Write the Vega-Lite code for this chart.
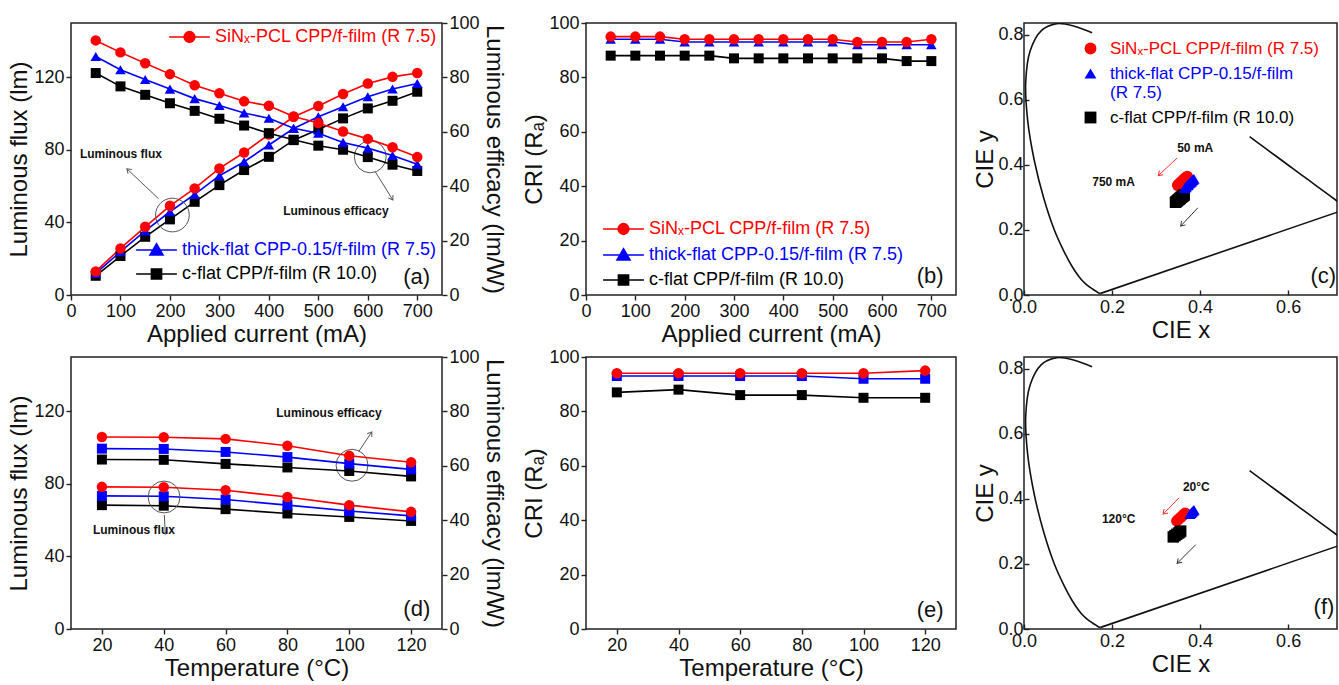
{
  "$schema": "https://vega.github.io/schema/vega-lite/v6.json",
  "background": "white",
  "padding": {"left": 7, "top": 13, "right": 0, "bottom": 0},
  "config": {
    "font": "Liberation Sans",
    "view": {"stroke": "#222", "strokeWidth": 1.5},
    "axis": {
      "grid": false, "domain": false,
      "labelFont": "Liberation Sans", "titleFont": "Liberation Sans",
      "labelFontSize": 18, "titleFontSize": 24, "titleFontWeight": "normal",
      "labelColor": "#111", "titleColor": "#111",
      "tickColor": "#222", "tickWidth": 1.4, "tickSize": 5,
      "labelOverlap": false, "labelFlush": false,
      "labelPadding": 2, "titlePadding": 2
    },
    "legend": {"labelFont": "Liberation Sans", "labelFontSize": 18, "labelLimit": 400}
  },
  "datasets": {
    "flux_current": [
      {"mA": 50, "sample": "c-flat", "lm": 10.6}, {"mA": 100, "sample": "c-flat", "lm": 21.5}, {"mA": 150, "sample": "c-flat", "lm": 32.1}, {"mA": 200, "sample": "c-flat", "lm": 41.7}, {"mA": 250, "sample": "c-flat", "lm": 51.4}, {"mA": 300, "sample": "c-flat", "lm": 60.6}, {"mA": 350, "sample": "c-flat", "lm": 68.9}, {"mA": 400, "sample": "c-flat", "lm": 76.2}, {"mA": 450, "sample": "c-flat", "lm": 85.4}, {"mA": 500, "sample": "c-flat", "lm": 91.3}, {"mA": 550, "sample": "c-flat", "lm": 97.4}, {"mA": 600, "sample": "c-flat", "lm": 102.9}, {"mA": 650, "sample": "c-flat", "lm": 107.1}, {"mA": 700, "sample": "c-flat", "lm": 112.1},
      {"mA": 50, "sample": "thick-flat", "lm": 11.9}, {"mA": 100, "sample": "thick-flat", "lm": 23.9}, {"mA": 150, "sample": "thick-flat", "lm": 35.3}, {"mA": 200, "sample": "thick-flat", "lm": 45.9}, {"mA": 250, "sample": "thick-flat", "lm": 55.5}, {"mA": 300, "sample": "thick-flat", "lm": 65.8}, {"mA": 350, "sample": "thick-flat", "lm": 73.5}, {"mA": 400, "sample": "thick-flat", "lm": 82.7}, {"mA": 450, "sample": "thick-flat", "lm": 91.8}, {"mA": 500, "sample": "thick-flat", "lm": 98.3}, {"mA": 550, "sample": "thick-flat", "lm": 103.8}, {"mA": 600, "sample": "thick-flat", "lm": 109.3}, {"mA": 650, "sample": "thick-flat", "lm": 113.6}, {"mA": 700, "sample": "thick-flat", "lm": 116.6},
      {"mA": 50, "sample": "SiNx-PCL", "lm": 13.0}, {"mA": 100, "sample": "SiNx-PCL", "lm": 25.7}, {"mA": 150, "sample": "SiNx-PCL", "lm": 37.6}, {"mA": 200, "sample": "SiNx-PCL", "lm": 49.2}, {"mA": 250, "sample": "SiNx-PCL", "lm": 58.8}, {"mA": 300, "sample": "SiNx-PCL", "lm": 69.8}, {"mA": 350, "sample": "SiNx-PCL", "lm": 78.6}, {"mA": 400, "sample": "SiNx-PCL", "lm": 88.5}, {"mA": 450, "sample": "SiNx-PCL", "lm": 98.3}, {"mA": 500, "sample": "SiNx-PCL", "lm": 104.2}, {"mA": 550, "sample": "SiNx-PCL", "lm": 110.8}, {"mA": 600, "sample": "SiNx-PCL", "lm": 116.6}, {"mA": 650, "sample": "SiNx-PCL", "lm": 120.3}, {"mA": 700, "sample": "SiNx-PCL", "lm": 122.4}
    ],
    "eff_current": [
      {"mA": 50, "sample": "c-flat", "lmW": 81.6}, {"mA": 100, "sample": "c-flat", "lmW": 76.7}, {"mA": 150, "sample": "c-flat", "lmW": 73.6}, {"mA": 200, "sample": "c-flat", "lmW": 70.5}, {"mA": 250, "sample": "c-flat", "lmW": 67.7}, {"mA": 300, "sample": "c-flat", "lmW": 64.8}, {"mA": 350, "sample": "c-flat", "lmW": 62.3}, {"mA": 400, "sample": "c-flat", "lmW": 59.5}, {"mA": 450, "sample": "c-flat", "lmW": 57.1}, {"mA": 500, "sample": "c-flat", "lmW": 54.9}, {"mA": 550, "sample": "c-flat", "lmW": 53.4}, {"mA": 600, "sample": "c-flat", "lmW": 50.7}, {"mA": 650, "sample": "c-flat", "lmW": 47.9}, {"mA": 700, "sample": "c-flat", "lmW": 45.6},
      {"mA": 50, "sample": "thick-flat", "lmW": 87.7}, {"mA": 100, "sample": "thick-flat", "lmW": 82.8}, {"mA": 150, "sample": "thick-flat", "lmW": 79.2}, {"mA": 200, "sample": "thick-flat", "lmW": 75.7}, {"mA": 250, "sample": "thick-flat", "lmW": 72.2}, {"mA": 300, "sample": "thick-flat", "lmW": 69.7}, {"mA": 350, "sample": "thick-flat", "lmW": 66.9}, {"mA": 400, "sample": "thick-flat", "lmW": 65.0}, {"mA": 450, "sample": "thick-flat", "lmW": 61.3}, {"mA": 500, "sample": "thick-flat", "lmW": 59.5}, {"mA": 550, "sample": "thick-flat", "lmW": 56.1}, {"mA": 600, "sample": "thick-flat", "lmW": 54.0}, {"mA": 650, "sample": "thick-flat", "lmW": 51.3}, {"mA": 700, "sample": "thick-flat", "lmW": 48.1},
      {"mA": 50, "sample": "SiNx-PCL", "lmW": 93.6}, {"mA": 100, "sample": "SiNx-PCL", "lmW": 89.2}, {"mA": 150, "sample": "SiNx-PCL", "lmW": 85.2}, {"mA": 200, "sample": "SiNx-PCL", "lmW": 81.2}, {"mA": 250, "sample": "SiNx-PCL", "lmW": 77.1}, {"mA": 300, "sample": "SiNx-PCL", "lmW": 74.2}, {"mA": 350, "sample": "SiNx-PCL", "lmW": 71.2}, {"mA": 400, "sample": "SiNx-PCL", "lmW": 69.6}, {"mA": 450, "sample": "SiNx-PCL", "lmW": 65.6}, {"mA": 500, "sample": "SiNx-PCL", "lmW": 63.2}, {"mA": 550, "sample": "SiNx-PCL", "lmW": 60.1}, {"mA": 600, "sample": "SiNx-PCL", "lmW": 57.4}, {"mA": 650, "sample": "SiNx-PCL", "lmW": 54.3}, {"mA": 700, "sample": "SiNx-PCL", "lmW": 50.7}
    ],
    "cri_current": [
      {"mA": 50, "sample": "c-flat", "Ra": 88}, {"mA": 100, "sample": "c-flat", "Ra": 88}, {"mA": 150, "sample": "c-flat", "Ra": 88}, {"mA": 200, "sample": "c-flat", "Ra": 88}, {"mA": 250, "sample": "c-flat", "Ra": 88}, {"mA": 300, "sample": "c-flat", "Ra": 87}, {"mA": 350, "sample": "c-flat", "Ra": 87}, {"mA": 400, "sample": "c-flat", "Ra": 87}, {"mA": 450, "sample": "c-flat", "Ra": 87}, {"mA": 500, "sample": "c-flat", "Ra": 87}, {"mA": 550, "sample": "c-flat", "Ra": 87}, {"mA": 600, "sample": "c-flat", "Ra": 87}, {"mA": 650, "sample": "c-flat", "Ra": 86}, {"mA": 700, "sample": "c-flat", "Ra": 86},
      {"mA": 50, "sample": "thick-flat", "Ra": 94}, {"mA": 100, "sample": "thick-flat", "Ra": 94}, {"mA": 150, "sample": "thick-flat", "Ra": 94}, {"mA": 200, "sample": "thick-flat", "Ra": 93}, {"mA": 250, "sample": "thick-flat", "Ra": 93}, {"mA": 300, "sample": "thick-flat", "Ra": 93}, {"mA": 350, "sample": "thick-flat", "Ra": 93}, {"mA": 400, "sample": "thick-flat", "Ra": 93}, {"mA": 450, "sample": "thick-flat", "Ra": 93}, {"mA": 500, "sample": "thick-flat", "Ra": 93}, {"mA": 550, "sample": "thick-flat", "Ra": 92}, {"mA": 600, "sample": "thick-flat", "Ra": 92}, {"mA": 650, "sample": "thick-flat", "Ra": 92}, {"mA": 700, "sample": "thick-flat", "Ra": 92},
      {"mA": 50, "sample": "SiNx-PCL", "Ra": 95}, {"mA": 100, "sample": "SiNx-PCL", "Ra": 95}, {"mA": 150, "sample": "SiNx-PCL", "Ra": 95}, {"mA": 200, "sample": "SiNx-PCL", "Ra": 94}, {"mA": 250, "sample": "SiNx-PCL", "Ra": 94}, {"mA": 300, "sample": "SiNx-PCL", "Ra": 94}, {"mA": 350, "sample": "SiNx-PCL", "Ra": 94}, {"mA": 400, "sample": "SiNx-PCL", "Ra": 94}, {"mA": 450, "sample": "SiNx-PCL", "Ra": 94}, {"mA": 500, "sample": "SiNx-PCL", "Ra": 94}, {"mA": 550, "sample": "SiNx-PCL", "Ra": 93}, {"mA": 600, "sample": "SiNx-PCL", "Ra": 93}, {"mA": 650, "sample": "SiNx-PCL", "Ra": 93}, {"mA": 700, "sample": "SiNx-PCL", "Ra": 94}
    ],
    "cie_current": [
      {"mA": 50, "sample": "c-flat", "x": 0.364, "y": 0.308}, {"mA": 100, "sample": "c-flat", "x": 0.363, "y": 0.306}, {"mA": 150, "sample": "c-flat", "x": 0.361, "y": 0.305}, {"mA": 200, "sample": "c-flat", "x": 0.360, "y": 0.303}, {"mA": 250, "sample": "c-flat", "x": 0.358, "y": 0.301}, {"mA": 300, "sample": "c-flat", "x": 0.357, "y": 0.300}, {"mA": 350, "sample": "c-flat", "x": 0.355, "y": 0.298}, {"mA": 400, "sample": "c-flat", "x": 0.354, "y": 0.296}, {"mA": 450, "sample": "c-flat", "x": 0.352, "y": 0.294}, {"mA": 500, "sample": "c-flat", "x": 0.351, "y": 0.293}, {"mA": 550, "sample": "c-flat", "x": 0.349, "y": 0.291}, {"mA": 600, "sample": "c-flat", "x": 0.348, "y": 0.289}, {"mA": 650, "sample": "c-flat", "x": 0.346, "y": 0.287}, {"mA": 700, "sample": "c-flat", "x": 0.344, "y": 0.285},
      {"mA": 50, "sample": "thick-flat", "x": 0.386, "y": 0.357}, {"mA": 100, "sample": "thick-flat", "x": 0.384, "y": 0.355}, {"mA": 150, "sample": "thick-flat", "x": 0.383, "y": 0.353}, {"mA": 200, "sample": "thick-flat", "x": 0.381, "y": 0.351}, {"mA": 250, "sample": "thick-flat", "x": 0.380, "y": 0.349}, {"mA": 300, "sample": "thick-flat", "x": 0.378, "y": 0.347}, {"mA": 350, "sample": "thick-flat", "x": 0.377, "y": 0.345}, {"mA": 400, "sample": "thick-flat", "x": 0.375, "y": 0.343}, {"mA": 450, "sample": "thick-flat", "x": 0.373, "y": 0.340}, {"mA": 500, "sample": "thick-flat", "x": 0.372, "y": 0.338}, {"mA": 550, "sample": "thick-flat", "x": 0.370, "y": 0.336}, {"mA": 600, "sample": "thick-flat", "x": 0.368, "y": 0.333}, {"mA": 650, "sample": "thick-flat", "x": 0.367, "y": 0.331}, {"mA": 700, "sample": "thick-flat", "x": 0.365, "y": 0.328},
      {"mA": 50, "sample": "SiNx-PCL", "x": 0.371, "y": 0.364}, {"mA": 100, "sample": "SiNx-PCL", "x": 0.369, "y": 0.362}, {"mA": 150, "sample": "SiNx-PCL", "x": 0.368, "y": 0.361}, {"mA": 200, "sample": "SiNx-PCL", "x": 0.366, "y": 0.359}, {"mA": 250, "sample": "SiNx-PCL", "x": 0.365, "y": 0.357}, {"mA": 300, "sample": "SiNx-PCL", "x": 0.363, "y": 0.355}, {"mA": 350, "sample": "SiNx-PCL", "x": 0.362, "y": 0.353}, {"mA": 400, "sample": "SiNx-PCL", "x": 0.360, "y": 0.351}, {"mA": 450, "sample": "SiNx-PCL", "x": 0.358, "y": 0.349}, {"mA": 500, "sample": "SiNx-PCL", "x": 0.357, "y": 0.347}, {"mA": 550, "sample": "SiNx-PCL", "x": 0.355, "y": 0.345}, {"mA": 600, "sample": "SiNx-PCL", "x": 0.353, "y": 0.342}, {"mA": 650, "sample": "SiNx-PCL", "x": 0.351, "y": 0.340}, {"mA": 700, "sample": "SiNx-PCL", "x": 0.349, "y": 0.337}
    ],
    "flux_temp": [
      {"degC": 20, "sample": "c-flat", "lm": 68.3}, {"degC": 40, "sample": "c-flat", "lm": 68.0}, {"degC": 60, "sample": "c-flat", "lm": 66.1}, {"degC": 80, "sample": "c-flat", "lm": 63.7}, {"degC": 100, "sample": "c-flat", "lm": 61.8}, {"degC": 120, "sample": "c-flat", "lm": 59.6},
      {"degC": 20, "sample": "thick-flat", "lm": 73.4}, {"degC": 40, "sample": "thick-flat", "lm": 73.2}, {"degC": 60, "sample": "thick-flat", "lm": 71.4}, {"degC": 80, "sample": "thick-flat", "lm": 68.3}, {"degC": 100, "sample": "thick-flat", "lm": 65.1}, {"degC": 120, "sample": "thick-flat", "lm": 62.4},
      {"degC": 20, "sample": "SiNx-PCL", "lm": 78.4}, {"degC": 40, "sample": "SiNx-PCL", "lm": 78.2}, {"degC": 60, "sample": "SiNx-PCL", "lm": 76.5}, {"degC": 80, "sample": "SiNx-PCL", "lm": 72.8}, {"degC": 100, "sample": "SiNx-PCL", "lm": 68.3}, {"degC": 120, "sample": "SiNx-PCL", "lm": 64.6}
    ],
    "eff_temp": [
      {"degC": 20, "sample": "c-flat", "lmW": 62.3}, {"degC": 40, "sample": "c-flat", "lmW": 62.2}, {"degC": 60, "sample": "c-flat", "lmW": 60.7}, {"degC": 80, "sample": "c-flat", "lmW": 59.4}, {"degC": 100, "sample": "c-flat", "lmW": 58.1}, {"degC": 120, "sample": "c-flat", "lmW": 56.1},
      {"degC": 20, "sample": "thick-flat", "lmW": 66.3}, {"degC": 40, "sample": "thick-flat", "lmW": 66.2}, {"degC": 60, "sample": "thick-flat", "lmW": 65.1}, {"degC": 80, "sample": "thick-flat", "lmW": 63.2}, {"degC": 100, "sample": "thick-flat", "lmW": 60.8}, {"degC": 120, "sample": "thick-flat", "lmW": 58.7},
      {"degC": 20, "sample": "SiNx-PCL", "lmW": 70.6}, {"degC": 40, "sample": "SiNx-PCL", "lmW": 70.5}, {"degC": 60, "sample": "SiNx-PCL", "lmW": 69.9}, {"degC": 80, "sample": "SiNx-PCL", "lmW": 67.4}, {"degC": 100, "sample": "SiNx-PCL", "lmW": 63.7}, {"degC": 120, "sample": "SiNx-PCL", "lmW": 61.3}
    ],
    "cri_temp": [
      {"degC": 20, "sample": "c-flat", "Ra": 87}, {"degC": 40, "sample": "c-flat", "Ra": 88}, {"degC": 60, "sample": "c-flat", "Ra": 86}, {"degC": 80, "sample": "c-flat", "Ra": 86}, {"degC": 100, "sample": "c-flat", "Ra": 85}, {"degC": 120, "sample": "c-flat", "Ra": 85},
      {"degC": 20, "sample": "thick-flat", "Ra": 93}, {"degC": 40, "sample": "thick-flat", "Ra": 93}, {"degC": 60, "sample": "thick-flat", "Ra": 93}, {"degC": 80, "sample": "thick-flat", "Ra": 93}, {"degC": 100, "sample": "thick-flat", "Ra": 92}, {"degC": 120, "sample": "thick-flat", "Ra": 92},
      {"degC": 20, "sample": "SiNx-PCL", "Ra": 94}, {"degC": 40, "sample": "SiNx-PCL", "Ra": 94}, {"degC": 60, "sample": "SiNx-PCL", "Ra": 94}, {"degC": 80, "sample": "SiNx-PCL", "Ra": 94}, {"degC": 100, "sample": "SiNx-PCL", "Ra": 94}, {"degC": 120, "sample": "SiNx-PCL", "Ra": 95}
    ],
    "cie_temp": [
      {"degC": 20, "sample": "c-flat", "x": 0.356, "y": 0.301}, {"degC": 40, "sample": "c-flat", "x": 0.354, "y": 0.298}, {"degC": 60, "sample": "c-flat", "x": 0.351, "y": 0.295}, {"degC": 80, "sample": "c-flat", "x": 0.347, "y": 0.291}, {"degC": 100, "sample": "c-flat", "x": 0.343, "y": 0.287}, {"degC": 120, "sample": "c-flat", "x": 0.339, "y": 0.283},
      {"degC": 20, "sample": "thick-flat", "x": 0.386, "y": 0.366}, {"degC": 40, "sample": "thick-flat", "x": 0.385, "y": 0.364}, {"degC": 60, "sample": "thick-flat", "x": 0.383, "y": 0.362}, {"degC": 80, "sample": "thick-flat", "x": 0.381, "y": 0.359}, {"degC": 100, "sample": "thick-flat", "x": 0.379, "y": 0.356}, {"degC": 120, "sample": "thick-flat", "x": 0.377, "y": 0.353},
      {"degC": 20, "sample": "SiNx-PCL", "x": 0.366, "y": 0.356}, {"degC": 40, "sample": "SiNx-PCL", "x": 0.363, "y": 0.352}, {"degC": 60, "sample": "SiNx-PCL", "x": 0.360, "y": 0.348}, {"degC": 80, "sample": "SiNx-PCL", "x": 0.356, "y": 0.343}, {"degC": 100, "sample": "SiNx-PCL", "x": 0.351, "y": 0.337}, {"degC": 120, "sample": "SiNx-PCL", "x": 0.347, "y": 0.332}
    ],
    "locus": [
      {"part": "blue-green", "nm": 380, "x": 0.1741, "y": 0.0050}, {"part": "blue-green", "nm": 420, "x": 0.1714, "y": 0.0051}, {"part": "blue-green", "nm": 440, "x": 0.1644, "y": 0.0109}, {"part": "blue-green", "nm": 450, "x": 0.1566, "y": 0.0177}, {"part": "blue-green", "nm": 460, "x": 0.1440, "y": 0.0297}, {"part": "blue-green", "nm": 465, "x": 0.1355, "y": 0.0399}, {"part": "blue-green", "nm": 470, "x": 0.1241, "y": 0.0578}, {"part": "blue-green", "nm": 475, "x": 0.1096, "y": 0.0868}, {"part": "blue-green", "nm": 480, "x": 0.0913, "y": 0.1327}, {"part": "blue-green", "nm": 485, "x": 0.0687, "y": 0.2007}, {"part": "blue-green", "nm": 490, "x": 0.0454, "y": 0.2950}, {"part": "blue-green", "nm": 495, "x": 0.0235, "y": 0.4127}, {"part": "blue-green", "nm": 500, "x": 0.0082, "y": 0.5384}, {"part": "blue-green", "nm": 505, "x": 0.0039, "y": 0.6548}, {"part": "blue-green", "nm": 510, "x": 0.0139, "y": 0.7502}, {"part": "blue-green", "nm": 515, "x": 0.0389, "y": 0.8120}, {"part": "blue-green", "nm": 520, "x": 0.0743, "y": 0.8338}, {"part": "blue-green", "nm": 525, "x": 0.1142, "y": 0.8262}, {"part": "blue-green", "nm": 530, "x": 0.1547, "y": 0.8059},
      {"part": "orange-red", "nm": 580, "x": 0.5125, "y": 0.4866}, {"part": "orange-red", "nm": 585, "x": 0.5448, "y": 0.4544}, {"part": "orange-red", "nm": 590, "x": 0.5752, "y": 0.4242}, {"part": "orange-red", "nm": 595, "x": 0.6029, "y": 0.3965}, {"part": "orange-red", "nm": 600, "x": 0.6270, "y": 0.3725}, {"part": "orange-red", "nm": 610, "x": 0.6658, "y": 0.3340}, {"part": "orange-red", "nm": 620, "x": 0.6915, "y": 0.3083}, {"part": "orange-red", "nm": 630, "x": 0.7079, "y": 0.2920}, {"part": "orange-red", "nm": 640, "x": 0.7190, "y": 0.2809}, {"part": "orange-red", "nm": 650, "x": 0.7260, "y": 0.2740}, {"part": "orange-red", "nm": 660, "x": 0.7300, "y": 0.2700}, {"part": "orange-red", "nm": 680, "x": 0.7334, "y": 0.2666}, {"part": "orange-red", "nm": 700, "x": 0.7347, "y": 0.2653},
      {"part": "purple", "nm": 380, "x": 0.1741, "y": 0.0050}, {"part": "purple", "nm": 700, "x": 0.7347, "y": 0.2653}
    ]
  },
  "spacing": 0,
  "vconcat": [
    {
      "spacing": 16,
      "hconcat": [
        {
          "width": 371, "height": 272,
          "resolve": {"scale": {"y": "independent", "stroke": "independent"}},
          "layer": [
            {
              "layer": [
                {
                  "data": {"name": "flux_current"},
                  "mark": {"type": "line", "strokeWidth": 1.6},
                  "encoding": {
                    "x": {"field": "mA", "type": "quantitative", "scale": {"domain": [0, 750], "nice": false},
                          "axis": {"title": "Applied current (mA)", "values": [0, 100, 200, 300, 400, 500, 600, 700]}},
                    "y": {"field": "lm", "type": "quantitative", "scale": {"domain": [0, 150], "nice": false},
                          "axis": {"title": "Luminous flux (lm)", "values": [0, 20, 40, 60, 80, 100, 120, 140]}},
                    "stroke": {"field": "sample", "type": "nominal", "scale": {"domain": ["SiNx-PCL", "thick-flat", "c-flat"], "range": ["#ff0000", "#0000ff", "#000000"]},
                               "legend": {"title": null, "orient": "top-right", "offset": 5, "values": ["SiNx-PCL"], "symbolSize": 144, "symbolOffset": 11.5, "labelOffset": 16.5, "symbolStrokeWidth": 1.5,
                                          "labelExpr": "datum.value === 'SiNx-PCL' ? 'SiNₓ-PCL CPP/f-film (R 7.5)' : datum.value === 'thick-flat' ? 'thick-flat CPP-0.15/f-film (R 7.5)' : 'c-flat CPP/f-film (R 10.0)'",
                                          "symbolType": {"expr": "datum.value === 'SiNx-PCL' ? 'M-3.4,0H3.4M0.9,0A0.9,0.9,0,1,1,-0.9,0A0.9,0.9,0,1,1,0.9,0Z' : datum.value === 'thick-flat' ? 'M-3.4,0H3.4M0,-1.05L1.1,0.85L-1.1,0.85Z' : 'M-3.4,0H3.4M-0.85,-0.85H0.85V0.85H-0.85Z'"},
                                          "symbolFillColor": {"expr": "datum.value === 'SiNx-PCL' ? '#ff0000' : datum.value === 'thick-flat' ? '#0000ff' : '#000000'"},
                                          "labelColor": {"expr": "datum.value === 'SiNx-PCL' ? '#ff0000' : datum.value === 'thick-flat' ? '#0000ff' : '#000000'"}}}
                  }
                },
                {
                  "data": {"name": "flux_current"},
                  "encoding": {
                    "x": {"field": "mA", "type": "quantitative", "scale": {"domain": [0, 750], "nice": false}},
                    "y": {"field": "lm", "type": "quantitative", "scale": {"domain": [0, 150], "nice": false}}
                  },
                  "layer": [
                    {"transform": [{"filter": "datum.sample === 'c-flat'"}], "mark": {"type": "point", "shape": "square", "filled": true, "color": "#000000", "size": 100, "opacity": 1}},
                    {"transform": [{"filter": "datum.sample === 'thick-flat'"}], "mark": {"type": "point", "shape": "triangle-up", "filled": true, "color": "#0000ff", "size": 110, "opacity": 1}},
                    {"transform": [{"filter": "datum.sample === 'SiNx-PCL'"}], "mark": {"type": "point", "shape": "circle", "filled": true, "color": "#ff0000", "size": 110, "opacity": 1}}
                  ]
                },
                {
                  "data": {"values": [{}]},
                  "layer": [
                    {"mark": {"type": "text", "text": "Luminous flux", "align": "left", "baseline": "middle", "fontWeight": "bold", "fontSize": 12, "color": "#111"},
                     "encoding": {"x": {"datum": 18, "type": "quantitative"}, "y": {"datum": 77.9, "type": "quantitative"}}},
                    {"mark": {"type": "text", "text": "Luminous efficacy", "align": "left", "baseline": "middle", "fontWeight": "bold", "fontSize": 12, "color": "#111"},
                     "encoding": {"x": {"datum": 429, "type": "quantitative"}, "y": {"datum": 46.3, "type": "quantitative"}}},
                    {"mark": {"type": "point", "shape": "circle", "size": 1134, "filled": false, "stroke": "#555", "strokeWidth": 1, "opacity": 1},
                     "encoding": {"x": {"datum": 205, "type": "quantitative"}, "y": {"datum": 44.1, "type": "quantitative"}}},
                    {"mark": {"type": "point", "shape": "circle", "size": 1018, "filled": false, "stroke": "#555", "strokeWidth": 1, "opacity": 1},
                     "encoding": {"x": {"datum": 605, "type": "quantitative"}, "y": {"datum": 76.2, "type": "quantitative"}}},
                    {"mark": {"type": "rule", "stroke": "#555", "strokeWidth": 1},
                     "encoding": {"x": {"datum": 177, "type": "quantitative"}, "y": {"datum": 53.1, "type": "quantitative"}, "x2": {"datum": 113}, "y2": {"datum": 69.6}}},
                    {"mark": {"type": "point", "shape": "M-0.8,1.2L0,0L0.8,1.2", "size": 49, "filled": false, "stroke": "#555", "strokeWidth": 1, "angle": 313, "opacity": 1},
                     "encoding": {"x": {"datum": 113, "type": "quantitative"}, "y": {"datum": 69.6, "type": "quantitative"}}},
                    {"mark": {"type": "rule", "stroke": "#555", "strokeWidth": 1},
                     "encoding": {"x": {"datum": 615, "type": "quantitative"}, "y": {"datum": 68, "type": "quantitative"}, "x2": {"datum": 650.6}, "y2": {"datum": 52.4}}},
                    {"mark": {"type": "point", "shape": "M-0.8,1.2L0,0L0.8,1.2", "size": 49, "filled": false, "stroke": "#555", "strokeWidth": 1, "angle": 148, "opacity": 1},
                     "encoding": {"x": {"datum": 650.6, "type": "quantitative"}, "y": {"datum": 52.4, "type": "quantitative"}}},
                    {"mark": {"type": "text", "text": "(a)", "align": "right", "baseline": "middle", "fontSize": 22, "color": "#111"},
                     "encoding": {"x": {"datum": 726, "type": "quantitative"}, "y": {"datum": 10.1, "type": "quantitative"}}}
                  ]
                }
              ]
            },
            {
              "data": {"name": "eff_current"},
              "layer": [
                {
                  "mark": {"type": "line", "strokeWidth": 1.6},
                  "encoding": {
                    "x": {"field": "mA", "type": "quantitative", "scale": {"domain": [0, 750], "nice": false}},
                    "y": {"field": "lmW", "type": "quantitative", "scale": {"domain": [0, 100], "nice": false},
                          "axis": {"title": "Luminous efficacy (lm/W)", "orient": "right", "values": [0, 20, 40, 60, 80, 100]}},
                    "stroke": {"field": "sample", "type": "nominal", "scale": {"domain": ["SiNx-PCL", "thick-flat", "c-flat"], "range": ["#ff0000", "#0000ff", "#000000"]},
                               "legend": {"title": null, "orient": "none", "legendX": 65, "legendY": 218, "values": ["thick-flat", "c-flat"], "rowPadding": 6, "symbolSize": 144, "symbolOffset": 11.5, "labelOffset": 16.5, "symbolStrokeWidth": 1.5,
                                          "labelExpr": "datum.value === 'SiNx-PCL' ? 'SiNₓ-PCL CPP/f-film (R 7.5)' : datum.value === 'thick-flat' ? 'thick-flat CPP-0.15/f-film (R 7.5)' : 'c-flat CPP/f-film (R 10.0)'",
                                          "symbolType": {"expr": "datum.value === 'SiNx-PCL' ? 'M-3.4,0H3.4M0.9,0A0.9,0.9,0,1,1,-0.9,0A0.9,0.9,0,1,1,0.9,0Z' : datum.value === 'thick-flat' ? 'M-3.4,0H3.4M0,-1.05L1.1,0.85L-1.1,0.85Z' : 'M-3.4,0H3.4M-0.85,-0.85H0.85V0.85H-0.85Z'"},
                                          "symbolFillColor": {"expr": "datum.value === 'SiNx-PCL' ? '#ff0000' : datum.value === 'thick-flat' ? '#0000ff' : '#000000'"},
                                          "labelColor": {"expr": "datum.value === 'SiNx-PCL' ? '#ff0000' : datum.value === 'thick-flat' ? '#0000ff' : '#000000'"}}}
                  }
                },
                {
                  "encoding": {
                    "x": {"field": "mA", "type": "quantitative", "scale": {"domain": [0, 750], "nice": false}},
                    "y": {"field": "lmW", "type": "quantitative", "scale": {"domain": [0, 100], "nice": false}}
                  },
                  "layer": [
                    {"transform": [{"filter": "datum.sample === 'c-flat'"}], "mark": {"type": "point", "shape": "square", "filled": true, "color": "#000000", "size": 100, "opacity": 1}},
                    {"transform": [{"filter": "datum.sample === 'thick-flat'"}], "mark": {"type": "point", "shape": "triangle-up", "filled": true, "color": "#0000ff", "size": 110, "opacity": 1}},
                    {"transform": [{"filter": "datum.sample === 'SiNx-PCL'"}], "mark": {"type": "point", "shape": "circle", "filled": true, "color": "#ff0000", "size": 110, "opacity": 1}}
                  ]
                }
              ]
            }
          ]
        },
        {
          "width": 370, "height": 272,
          "layer": [
            {
              "data": {"name": "cri_current"},
              "mark": {"type": "line", "strokeWidth": 1.6},
              "encoding": {
                "x": {"field": "mA", "type": "quantitative", "scale": {"domain": [0, 750], "nice": false},
                      "axis": {"title": "Applied current (mA)", "values": [0, 100, 200, 300, 400, 500, 600, 700]}},
                "y": {"field": "Ra", "type": "quantitative", "scale": {"domain": [0, 100], "nice": false},
                      "axis": {"title": "CRI (Rₐ)", "values": [0, 20, 40, 60, 80, 100]}},
                "stroke": {"field": "sample", "type": "nominal", "sort": ["SiNx-PCL", "thick-flat", "c-flat"], "scale": {"range": ["#ff0000", "#0000ff", "#000000"]},
                           "legend": {"title": null, "orient": "none", "legendX": 532, "legendY": 197, "rowPadding": 7, "symbolSize": 144, "symbolOffset": 11.5, "labelOffset": 16.5, "symbolStrokeWidth": 1.5,
                                      "labelExpr": "datum.value === 'SiNx-PCL' ? 'SiNₓ-PCL CPP/f-film (R 7.5)' : datum.value === 'thick-flat' ? 'thick-flat CPP-0.15/f-film (R 7.5)' : 'c-flat CPP/f-film (R 10.0)'",
                                      "symbolType": {"expr": "datum.value === 'SiNx-PCL' ? 'M-3.4,0H3.4M0.9,0A0.9,0.9,0,1,1,-0.9,0A0.9,0.9,0,1,1,0.9,0Z' : datum.value === 'thick-flat' ? 'M-3.4,0H3.4M0,-1.05L1.1,0.85L-1.1,0.85Z' : 'M-3.4,0H3.4M-0.85,-0.85H0.85V0.85H-0.85Z'"},
                                      "symbolFillColor": {"expr": "datum.value === 'SiNx-PCL' ? '#ff0000' : datum.value === 'thick-flat' ? '#0000ff' : '#000000'"},
                                      "labelColor": {"expr": "datum.value === 'SiNx-PCL' ? '#ff0000' : datum.value === 'thick-flat' ? '#0000ff' : '#000000'"}}}
              }
            },
            {
              "data": {"name": "cri_current"},
              "encoding": {
                "x": {"field": "mA", "type": "quantitative", "scale": {"domain": [0, 750], "nice": false}},
                "y": {"field": "Ra", "type": "quantitative", "scale": {"domain": [0, 100], "nice": false}}
              },
              "layer": [
                {"transform": [{"filter": "datum.sample === 'c-flat'"}], "mark": {"type": "point", "shape": "square", "filled": true, "color": "#000000", "size": 100, "opacity": 1}},
                {"transform": [{"filter": "datum.sample === 'thick-flat'"}], "mark": {"type": "point", "shape": "triangle-up", "filled": true, "color": "#0000ff", "size": 110, "opacity": 1}},
                {"transform": [{"filter": "datum.sample === 'SiNx-PCL'"}], "mark": {"type": "point", "shape": "circle", "filled": true, "color": "#ff0000", "size": 110, "opacity": 1}}
              ]
            },
            {
              "data": {"values": [{}]},
              "mark": {"type": "text", "text": "(b)", "align": "right", "baseline": "middle", "fontSize": 22, "color": "#111"},
              "encoding": {"x": {"datum": 725, "type": "quantitative"}, "y": {"datum": 7.1, "type": "quantitative"}}
            }
          ]
        },
        {
          "width": 313, "height": 272,
          "layer": [
            {
              "data": {"name": "locus"},
              "mark": {"type": "line", "color": "#111", "strokeWidth": 1.6, "clip": true, "interpolate": "catmull-rom"},
              "encoding": {
                "x": {"field": "x", "type": "quantitative", "scale": {"domain": [0, 0.711], "nice": false, "zero": false},
                      "axis": {"title": "CIE x", "values": [0, 0.2, 0.4, 0.6], "format": ".1f", "tickSize": -5, "labelPadding": 8}},
                "y": {"field": "y", "type": "quantitative", "scale": {"domain": [0, 0.836], "nice": false, "zero": false},
                      "axis": {"title": "CIE y", "values": [0, 0.2, 0.4, 0.6, 0.8], "format": ".1f", "tickSize": -5, "labelPadding": 6, "titlePadding": 0}},
                "detail": {"field": "part", "type": "nominal"},
                "order": {"field": "nm", "type": "quantitative"}
              }
            },
            {
              "data": {"name": "cie_current"},
              "mark": {"type": "point", "filled": true, "size": 130, "opacity": 1},
              "encoding": {
                "x": {"field": "x", "type": "quantitative", "scale": {"domain": [0, 0.711], "nice": false, "zero": false}},
                "y": {"field": "y", "type": "quantitative", "scale": {"domain": [0, 0.836], "nice": false, "zero": false}},
                "color": {"field": "sample", "type": "nominal", "sort": ["SiNx-PCL", "thick-flat", "c-flat"], "scale": {"range": ["#ff0000", "#0000ff", "#000000"]},
                          "legend": {"title": null, "orient": "none", "legendX": 1011, "legendY": 17, "rowPadding": 7, "symbolSize": 140, "symbolOffset": 0, "labelOffset": 11, "labelFontSize": 17, "symbolStrokeWidth": 0,
                                     "labelExpr": "datum.value === 'SiNx-PCL' ? 'SiNₓ-PCL CPP/f-film (R 7.5)' : datum.value === 'thick-flat' ? ['thick-flat CPP-0.15/f-film', '(R 7.5)'] : 'c-flat CPP/f-film (R 10.0)'",
                                     "symbolType": {"expr": "datum.value === 'SiNx-PCL' ? 'circle' : datum.value === 'thick-flat' ? 'triangle-up' : 'square'"},
                                     "labelColor": {"expr": "datum.value === 'SiNx-PCL' ? '#ff0000' : datum.value === 'thick-flat' ? '#0000ff' : '#000000'"}}},
                "shape": {"field": "sample", "type": "nominal", "sort": ["SiNx-PCL", "thick-flat", "c-flat"], "scale": {"range": ["circle", "triangle-up", "square"]}},
                "order": {"field": "sample", "type": "nominal", "sort": "ascending"}
              }
            },
            {
              "data": {"values": [{}]},
              "layer": [
                {"mark": {"type": "text", "text": "50 mA", "align": "left", "baseline": "middle", "fontWeight": "bold", "fontSize": 12, "color": "#111"},
                 "encoding": {"x": {"datum": 0.348, "type": "quantitative"}, "y": {"datum": 0.452, "type": "quantitative"}}},
                {"mark": {"type": "text", "text": "750 mA", "align": "left", "baseline": "middle", "fontWeight": "bold", "fontSize": 12, "color": "#111"},
                 "encoding": {"x": {"datum": 0.155, "type": "quantitative"}, "y": {"datum": 0.346, "type": "quantitative"}}},
                {"mark": {"type": "rule", "stroke": "#ff3030", "strokeWidth": 1},
                 "encoding": {"x": {"datum": 0.348, "type": "quantitative"}, "y": {"datum": 0.421, "type": "quantitative"}, "x2": {"datum": 0.305}, "y2": {"datum": 0.367}}},
                {"mark": {"type": "point", "shape": "M-0.8,1.2L0,0L0.8,1.2", "size": 49, "filled": false, "stroke": "#ff3030", "strokeWidth": 1, "angle": 227, "opacity": 1},
                 "encoding": {"x": {"datum": 0.305, "type": "quantitative"}, "y": {"datum": 0.367, "type": "quantitative"}}},
                {"mark": {"type": "rule", "stroke": "#333", "strokeWidth": 1},
                 "encoding": {"x": {"datum": 0.395, "type": "quantitative"}, "y": {"datum": 0.268, "type": "quantitative"}, "x2": {"datum": 0.356}, "y2": {"datum": 0.212}}},
                {"mark": {"type": "point", "shape": "M-0.8,1.2L0,0L0.8,1.2", "size": 49, "filled": false, "stroke": "#333", "strokeWidth": 1, "angle": 223, "opacity": 1},
                 "encoding": {"x": {"datum": 0.356, "type": "quantitative"}, "y": {"datum": 0.212, "type": "quantitative"}}},
                {"mark": {"type": "text", "text": "(c)", "align": "right", "baseline": "middle", "fontSize": 22, "color": "#111"},
                 "encoding": {"x": {"datum": 0.709, "type": "quantitative"}, "y": {"datum": 0.058, "type": "quantitative"}}}
              ]
            }
          ]
        }
      ]
    },
    {
      "spacing": 16,
      "hconcat": [
        {
          "width": 371, "height": 272,
          "resolve": {"scale": {"y": "independent"}},
          "layer": [
            {
              "layer": [
                {
                  "data": {"name": "flux_temp"},
                  "mark": {"type": "line", "strokeWidth": 1.6},
                  "encoding": {
                    "x": {"field": "degC", "type": "quantitative", "scale": {"domain": [10, 130], "nice": false, "zero": false},
                          "axis": {"title": "Temperature (°C)", "values": [20, 40, 60, 80, 100, 120]}},
                    "y": {"field": "lm", "type": "quantitative", "scale": {"domain": [0, 150], "nice": false},
                          "axis": {"title": "Luminous flux (lm)", "values": [0, 20, 40, 60, 80, 100, 120, 140]}},
                    "stroke": {"field": "sample", "type": "nominal", "sort": ["SiNx-PCL", "thick-flat", "c-flat"], "scale": {"range": ["#ff0000", "#0000ff", "#000000"]},
                               "legend": {"title": null, "orient": "none", "legendX": 19, "legendY": 527, "rowPadding": 7, "symbolSize": 144, "symbolOffset": 11.5, "labelOffset": 16.5, "symbolStrokeWidth": 1.5,
                                          "labelExpr": "datum.value === 'SiNx-PCL' ? 'SiNₓ-PCL CPP/f-film (R 7.5)' : datum.value === 'thick-flat' ? 'thick-flat CPP-0.15/f-film (R 7.5)' : 'c-flat CPP/f-film (R 10.0)'",
                                          "symbolType": {"expr": "datum.value === 'SiNx-PCL' ? 'M-3.4,0H3.4M0.9,0A0.9,0.9,0,1,1,-0.9,0A0.9,0.9,0,1,1,0.9,0Z' : 'M-3.4,0H3.4M-0.85,-0.85H0.85V0.85H-0.85Z'"},
                                          "symbolFillColor": {"expr": "datum.value === 'SiNx-PCL' ? '#ff0000' : datum.value === 'thick-flat' ? '#0000ff' : '#000000'"},
                                          "labelColor": {"expr": "datum.value === 'SiNx-PCL' ? '#ff0000' : datum.value === 'thick-flat' ? '#0000ff' : '#000000'"}}}
                  }
                },
                {
                  "data": {"name": "flux_temp"},
                  "encoding": {
                    "x": {"field": "degC", "type": "quantitative", "scale": {"domain": [10, 130], "nice": false, "zero": false}},
                    "y": {"field": "lm", "type": "quantitative", "scale": {"domain": [0, 150], "nice": false}}
                  },
                  "layer": [
                    {"transform": [{"filter": "datum.sample === 'c-flat'"}], "mark": {"type": "point", "shape": "square", "filled": true, "color": "#000000", "size": 100, "opacity": 1}},
                    {"transform": [{"filter": "datum.sample === 'thick-flat'"}], "mark": {"type": "point", "shape": "square", "filled": true, "color": "#0000ff", "size": 100, "opacity": 1}},
                    {"transform": [{"filter": "datum.sample === 'SiNx-PCL'"}], "mark": {"type": "point", "shape": "circle", "filled": true, "color": "#ff0000", "size": 110, "opacity": 1}}
                  ]
                },
                {
                  "data": {"values": [{}]},
                  "layer": [
                    {"mark": {"type": "text", "text": "Luminous efficacy", "align": "left", "baseline": "middle", "fontWeight": "bold", "fontSize": 12, "color": "#111"},
                     "encoding": {"x": {"datum": 76.4, "type": "quantitative"}, "y": {"datum": 119.2, "type": "quantitative"}}},
                    {"mark": {"type": "text", "text": "Luminous flux", "align": "left", "baseline": "middle", "fontWeight": "bold", "fontSize": 12, "color": "#111"},
                     "encoding": {"x": {"datum": 17.1, "type": "quantitative"}, "y": {"datum": 54.5, "type": "quantitative"}}},
                    {"mark": {"type": "point", "shape": "circle", "size": 1018, "filled": false, "stroke": "#555", "strokeWidth": 1, "opacity": 1},
                     "encoding": {"x": {"datum": 100.9, "type": "quantitative"}, "y": {"datum": 90.3, "type": "quantitative"}}},
                    {"mark": {"type": "point", "shape": "circle", "size": 1018, "filled": false, "stroke": "#555", "strokeWidth": 1, "opacity": 1},
                     "encoding": {"x": {"datum": 40.1, "type": "quantitative"}, "y": {"datum": 72.8, "type": "quantitative"}}},
                    {"mark": {"type": "rule", "stroke": "#555", "strokeWidth": 1},
                     "encoding": {"x": {"datum": 103, "type": "quantitative"}, "y": {"datum": 97.7, "type": "quantitative"}, "x2": {"datum": 107.3}, "y2": {"datum": 108.7}}},
                    {"mark": {"type": "point", "shape": "M-0.8,1.2L0,0L0.8,1.2", "size": 49, "filled": false, "stroke": "#555", "strokeWidth": 1, "angle": 34, "opacity": 1},
                     "encoding": {"x": {"datum": 107.3, "type": "quantitative"}, "y": {"datum": 108.7, "type": "quantitative"}}},
                    {"mark": {"type": "rule", "stroke": "#555", "strokeWidth": 1},
                     "encoding": {"x": {"datum": 40.2, "type": "quantitative"}, "y": {"datum": 62.8, "type": "quantitative"}, "x2": {"datum": 40.5}, "y2": {"datum": 52}}},
                    {"mark": {"type": "text", "text": "(d)", "align": "right", "baseline": "middle", "fontSize": 22, "color": "#111"},
                     "encoding": {"x": {"datum": 126.2, "type": "quantitative"}, "y": {"datum": 11.3, "type": "quantitative"}}}
                  ]
                }
              ]
            },
            {
              "data": {"name": "eff_temp"},
              "layer": [
                {
                  "mark": {"type": "line", "strokeWidth": 1.6},
                  "encoding": {
                    "x": {"field": "degC", "type": "quantitative", "scale": {"domain": [10, 130], "nice": false, "zero": false}},
                    "y": {"field": "lmW", "type": "quantitative", "scale": {"domain": [0, 100], "nice": false},
                          "axis": {"title": "Luminous efficacy (lm/W)", "orient": "right", "values": [0, 20, 40, 60, 80, 100]}},
                    "stroke": {"field": "sample", "type": "nominal", "sort": ["SiNx-PCL", "thick-flat", "c-flat"], "scale": {"range": ["#ff0000", "#0000ff", "#000000"]}}
                  }
                },
                {
                  "encoding": {
                    "x": {"field": "degC", "type": "quantitative", "scale": {"domain": [10, 130], "nice": false, "zero": false}},
                    "y": {"field": "lmW", "type": "quantitative", "scale": {"domain": [0, 100], "nice": false}}
                  },
                  "layer": [
                    {"transform": [{"filter": "datum.sample === 'c-flat'"}], "mark": {"type": "point", "shape": "square", "filled": true, "color": "#000000", "size": 100, "opacity": 1}},
                    {"transform": [{"filter": "datum.sample === 'thick-flat'"}], "mark": {"type": "point", "shape": "square", "filled": true, "color": "#0000ff", "size": 100, "opacity": 1}},
                    {"transform": [{"filter": "datum.sample === 'SiNx-PCL'"}], "mark": {"type": "point", "shape": "circle", "filled": true, "color": "#ff0000", "size": 110, "opacity": 1}}
                  ]
                }
              ]
            }
          ]
        },
        {
          "width": 370, "height": 272,
          "layer": [
            {
              "data": {"name": "cri_temp"},
              "mark": {"type": "line", "strokeWidth": 1.6},
              "encoding": {
                "x": {"field": "degC", "type": "quantitative", "scale": {"domain": [10, 130], "nice": false, "zero": false},
                      "axis": {"title": "Temperature (°C)", "values": [20, 40, 60, 80, 100, 120]}},
                "y": {"field": "Ra", "type": "quantitative", "scale": {"domain": [0, 100], "nice": false},
                      "axis": {"title": "CRI (Rₐ)", "values": [0, 20, 40, 60, 80, 100]}},
                "stroke": {"field": "sample", "type": "nominal", "sort": ["SiNx-PCL", "thick-flat", "c-flat"], "scale": {"range": ["#ff0000", "#0000ff", "#000000"]},
                           "legend": {"title": null, "orient": "none", "legendX": 529, "legendY": 524, "rowPadding": 7, "symbolSize": 144, "symbolOffset": 11.5, "labelOffset": 16.5, "symbolStrokeWidth": 1.5,
                                      "labelExpr": "datum.value === 'SiNx-PCL' ? 'SiNₓ-PCL CPP/f-film (R 7.5)' : datum.value === 'thick-flat' ? 'thick-flat CPP-0.15/f-film (R 7.5)' : 'c-flat CPP/f-film (R 10.0)'",
                                      "symbolType": {"expr": "datum.value === 'SiNx-PCL' ? 'M-3.4,0H3.4M0.9,0A0.9,0.9,0,1,1,-0.9,0A0.9,0.9,0,1,1,0.9,0Z' : 'M-3.4,0H3.4M-0.85,-0.85H0.85V0.85H-0.85Z'"},
                                      "symbolFillColor": {"expr": "datum.value === 'SiNx-PCL' ? '#ff0000' : datum.value === 'thick-flat' ? '#0000ff' : '#000000'"},
                                      "labelColor": {"expr": "datum.value === 'SiNx-PCL' ? '#ff0000' : datum.value === 'thick-flat' ? '#0000ff' : '#000000'"}}}
              }
            },
            {
              "data": {"name": "cri_temp"},
              "encoding": {
                "x": {"field": "degC", "type": "quantitative", "scale": {"domain": [10, 130], "nice": false, "zero": false}},
                "y": {"field": "Ra", "type": "quantitative", "scale": {"domain": [0, 100], "nice": false}}
              },
              "layer": [
                {"transform": [{"filter": "datum.sample === 'c-flat'"}], "mark": {"type": "point", "shape": "square", "filled": true, "color": "#000000", "size": 100, "opacity": 1}},
                {"transform": [{"filter": "datum.sample === 'thick-flat'"}], "mark": {"type": "point", "shape": "square", "filled": true, "color": "#0000ff", "size": 100, "opacity": 1}},
                {"transform": [{"filter": "datum.sample === 'SiNx-PCL'"}], "mark": {"type": "point", "shape": "circle", "filled": true, "color": "#ff0000", "size": 110, "opacity": 1}}
              ]
            },
            {
              "data": {"values": [{}]},
              "mark": {"type": "text", "text": "(e)", "align": "right", "baseline": "middle", "fontSize": 22, "color": "#111"},
              "encoding": {"x": {"datum": 126, "type": "quantitative"}, "y": {"datum": 6.9, "type": "quantitative"}}
            }
          ]
        },
        {
          "width": 313, "height": 272,
          "layer": [
            {
              "data": {"name": "locus"},
              "mark": {"type": "line", "color": "#111", "strokeWidth": 1.6, "clip": true, "interpolate": "catmull-rom"},
              "encoding": {
                "x": {"field": "x", "type": "quantitative", "scale": {"domain": [0, 0.711], "nice": false, "zero": false},
                      "axis": {"title": "CIE x", "values": [0, 0.2, 0.4, 0.6], "format": ".1f", "tickSize": -5, "labelPadding": 8}},
                "y": {"field": "y", "type": "quantitative", "scale": {"domain": [0, 0.836], "nice": false, "zero": false},
                      "axis": {"title": "CIE y", "values": [0, 0.2, 0.4, 0.6, 0.8], "format": ".1f", "tickSize": -5, "labelPadding": 6, "titlePadding": 0}},
                "detail": {"field": "part", "type": "nominal"},
                "order": {"field": "nm", "type": "quantitative"}
              }
            },
            {
              "data": {"name": "cie_temp"},
              "mark": {"type": "point", "filled": true, "size": 130, "opacity": 1},
              "encoding": {
                "x": {"field": "x", "type": "quantitative", "scale": {"domain": [0, 0.711], "nice": false, "zero": false}},
                "y": {"field": "y", "type": "quantitative", "scale": {"domain": [0, 0.836], "nice": false, "zero": false}},
                "color": {"field": "sample", "type": "nominal", "sort": ["SiNx-PCL", "thick-flat", "c-flat"], "scale": {"range": ["#ff0000", "#0000ff", "#000000"]},
                          "legend": {"title": null, "orient": "none", "legendX": 1011, "legendY": 351, "rowPadding": 7, "symbolSize": 140, "symbolOffset": 0, "labelOffset": 11, "labelFontSize": 17, "symbolStrokeWidth": 0,
                                     "labelExpr": "datum.value === 'SiNx-PCL' ? 'SiNₓ-PCL CPP/f-film (R 7.5)' : datum.value === 'thick-flat' ? ['thick-flat CPP-0.15/f-film', '(R 7.5)'] : 'c-flat CPP/f-film (R 10.0)'",
                                     "symbolType": {"expr": "datum.value === 'SiNx-PCL' ? 'circle' : datum.value === 'thick-flat' ? 'triangle-up' : 'square'"},
                                     "labelColor": {"expr": "datum.value === 'SiNx-PCL' ? '#ff0000' : datum.value === 'thick-flat' ? '#0000ff' : '#000000'"}}},
                "shape": {"field": "sample", "type": "nominal", "sort": ["SiNx-PCL", "thick-flat", "c-flat"], "scale": {"range": ["circle", "triangle-up", "square"]}},
                "order": {"field": "sample", "type": "nominal", "sort": "ascending"}
              }
            },
            {
              "data": {"values": [{}]},
              "layer": [
                {"mark": {"type": "text", "text": "20°C", "align": "left", "baseline": "middle", "fontWeight": "bold", "fontSize": 12, "color": "#111"},
                 "encoding": {"x": {"datum": 0.361, "type": "quantitative"}, "y": {"datum": 0.437, "type": "quantitative"}}},
                {"mark": {"type": "text", "text": "120°C", "align": "left", "baseline": "middle", "fontWeight": "bold", "fontSize": 12, "color": "#111"},
                 "encoding": {"x": {"datum": 0.177, "type": "quantitative"}, "y": {"datum": 0.338, "type": "quantitative"}}},
                {"mark": {"type": "rule", "stroke": "#ff3030", "strokeWidth": 1},
                 "encoding": {"x": {"datum": 0.352, "type": "quantitative"}, "y": {"datum": 0.403, "type": "quantitative"}, "x2": {"datum": 0.316}, "y2": {"datum": 0.353}}},
                {"mark": {"type": "point", "shape": "M-0.8,1.2L0,0L0.8,1.2", "size": 49, "filled": false, "stroke": "#ff3030", "strokeWidth": 1, "angle": 224, "opacity": 1},
                 "encoding": {"x": {"datum": 0.316, "type": "quantitative"}, "y": {"datum": 0.353, "type": "quantitative"}}},
                {"mark": {"type": "rule", "stroke": "#333", "strokeWidth": 1},
                 "encoding": {"x": {"datum": 0.39, "type": "quantitative"}, "y": {"datum": 0.259, "type": "quantitative"}, "x2": {"datum": 0.348}, "y2": {"datum": 0.202}}},
                {"mark": {"type": "point", "shape": "M-0.8,1.2L0,0L0.8,1.2", "size": 49, "filled": false, "stroke": "#333", "strokeWidth": 1, "angle": 225, "opacity": 1},
                 "encoding": {"x": {"datum": 0.348, "type": "quantitative"}, "y": {"datum": 0.202, "type": "quantitative"}}},
                {"mark": {"type": "text", "text": "(f)", "align": "right", "baseline": "middle", "fontSize": 22, "color": "#111"},
                 "encoding": {"x": {"datum": 0.705, "type": "quantitative"}, "y": {"datum": 0.068, "type": "quantitative"}}}
              ]
            }
          ]
        }
      ]
    }
  ]
}
